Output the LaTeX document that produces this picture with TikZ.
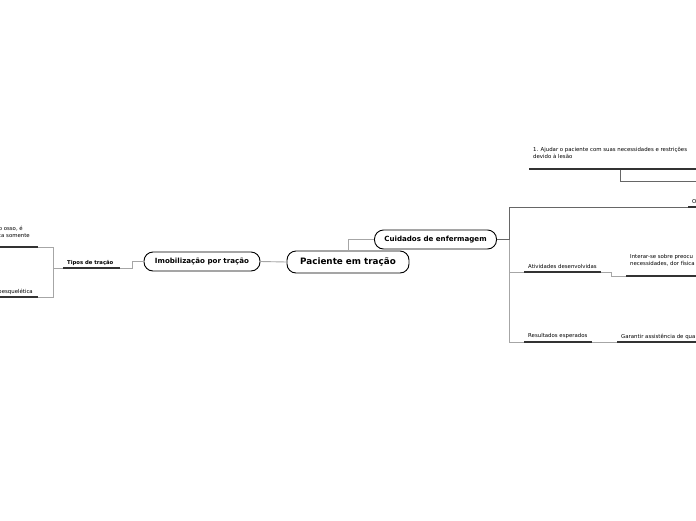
\documentclass[tikz,border=0pt]{standalone}
\usepackage{fontspec}
\setmainfont{DejaVu Sans}
\begin{document}
\begin{tikzpicture}[x=1pt,y=-1pt,
  conn/.style={draw=black!35, line width=0.9pt},
  connd/.style={draw=black!60, line width=0.9pt},
  ul/.style={draw=black!80, line width=1.9pt},
  topic/.style={draw=black, line width=0.9pt, rounded corners=9pt, fill=white, inner sep=0pt},
  big/.style={topic, minimum width=122pt, minimum height=22pt, font=\fontsize{8.8}{10}\selectfont\bfseries},
  mid/.style={topic, minimum width=122pt, minimum height=19pt, font=\fontsize{7.1}{8}\selectfont\bfseries},
  sm/.style={font=\fontsize{5.4}{6.6}\selectfont, inner sep=0pt, anchor=base west, align=left},
  smr/.style={font=\fontsize{5.4}{6.6}\selectfont, inner sep=0pt, anchor=base east},
  smb/.style={font=\fontsize{5.3}{6.6}\selectfont\bfseries, inner sep=0pt, anchor=base west}]
\useasboundingbox (0,0) rectangle (696,520);
\clip (0,0) rectangle (696,520);
\fill[white] (0,0) rectangle (696,520);

% main topics
\node[big] (root) at (348,262) {Paciente em tração};
\node[mid] (cuid) at (435.5,239.5) {Cuidados de enfermagem};
\node[mid, minimum width=116pt] (imob) at (202,261.5) {Imobilização por tração};

% left side
\coordinate (tipL) at (63,268);
\coordinate (tipR) at (120,268);
\node[smb] (tip) at (67,264.5) {Tipos de tração};
\coordinate (l1L) at (-2,247);
\coordinate (l1R) at (38,247);
\coordinate (l2L) at (-2,297);
\coordinate (l2R) at (38,297);
\node[smr] (l1a) at (23,230) {o osso, é};
\node[smr] (l1b) at (30,237) {ca somente};
\node[smr] (l2a) at (33,293) {oesquelética};

% right side
\coordinate (ajL) at (529,169);
\coordinate (ajR) at (697,169);
\coordinate (ajM) at (620,169);
\coordinate (ajP) at (697,181);
\node[sm] (aj) at (533,158) {1. Ajudar o paciente com suas necessidades e restrições\\devido à lesão};

\coordinate (oL) at (688,207);
\coordinate (oR) at (697,207);
\node[sm] (o) at (692,203) {O};

\coordinate (atL) at (524,272);
\coordinate (atR) at (601,272);
\node[sm] (at) at (528,268) {Atividades desenvolvidas};

\coordinate (inL) at (626,276);
\coordinate (inR) at (697,276);
\node[sm] (in) at (630,265.5) {Interar-se sobre preocu\\necessidades, dor física};

\coordinate (reL) at (524,342);
\coordinate (reR) at (592,342);
\node[sm] (re) at (528,337) {Resultados esperad\raisebox{-0.8pt}{os}};

\coordinate (gaL) at (617,342);
\coordinate (gaR) at (697,342);
\node[sm] (ga) at (621,338) {Garantir assistência de qua};

% connectors
\draw[conn] (root.north) |- (cuid.west);
\draw[conn] (root.west) -- (imob.east);
\draw[conn] (imob.west) -- ++(-11,0) |- (tipR);
\draw[conn] (tipL) -- ++(-10,0) |- (l1R);
\draw[conn] (tipL) -- ++(-10,0) |- (l2R);
\draw[conn] (l1R) -- ++(15,0);
\draw[conn] (l2R) -- ++(15,0);

\draw[conn] (cuid.east) -- ++(12,0) |- (atL);
\draw[conn] (cuid.east) -- ++(12,0) |- (reL);
\draw[connd] (cuid.east) -- ++(12,0) |- (oL);
\draw[connd] (cuid.east) -- ++(12,0);
\draw[conn] (atR) -- ++(10,0) |- (inL);
\draw[conn] (reR) -- (gaL);
\draw[connd] (ajM) |- (ajP);

% underlines
\draw[ul] (tipL) -- (tipR);
\draw[ul] (l1L) -- (l1R);
\draw[ul] (l2L) -- (l2R);
\draw[ul] (ajL) -- (ajR);
\draw[ul] (oL) -- (oR);
\draw[ul] (atL) -- (atR);
\draw[ul] (inL) -- (inR);
\draw[ul] (reL) -- (reR);
\draw[ul] (gaL) -- (gaR);
\end{tikzpicture}
\end{document}
